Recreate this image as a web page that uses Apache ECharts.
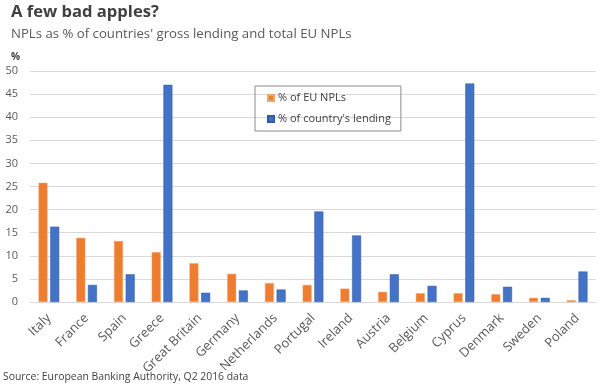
<!DOCTYPE html>
<html><head><meta charset="utf-8">
<script src="https://cdn.jsdelivr.net/npm/echarts@6/dist/echarts.min.js"></script>
<style>html,body{margin:0;padding:0;background:#fff}#c{width:600px;height:390px}</style>
</head><body><div id="c"></div>
<script>
var categories = ['Italy','France','Spain','Greece','Great Britain','Germany','Netherlands','Portugal','Ireland','Austria','Belgium','Cyprus','Denmark','Sweden','Poland'];
var euNPLs = [25.8, 13.9, 13.2, 10.8, 8.4, 6.1, 4.1, 3.7, 2.9, 2.2, 1.9, 1.9, 1.7, 0.9, 0.4];
var countryLending = [16.3, 3.7, 6.0, 47.0, 2.0, 2.5, 2.7, 19.6, 14.4, 6.0, 3.5, 47.3, 3.3, 0.9, 6.6];
var yTicks = [0,5,10,15,20,25,30,35,40,45,50];
var seriesNames = ['% of EU NPLs', "% of country's lending"];

var FONT = '"Open Sans", "Noto Sans", sans-serif';
var chart = echarts.init(document.getElementById('c'), null, {renderer:'canvas'});
chart.setOption({
  animation: false,
  textStyle: {fontFamily: FONT},
  graphic: [
    {type:'text', left: 11, top: 4, style:{text:'A few bad apples?', font:'bold 16.6px ' + FONT, fill:'#404040'}},
    {type:'text', left: 11, top: 28, style:{text:"NPLs as % of countries' gross lending and total EU NPLs", font:'13.2px ' + FONT, fill:'#595959'}},
    {type:'text', left: 11, top: 52, style:{text:'%', font:'bold 10px ' + FONT, fill:'#404040'}},
    {type:'text', left: 3, top: 372, style:{text:'Source: European Banking Authority, Q2 2016 data', font:'10.4px ' + FONT, fill:'#404040'}}
  ],
  legend: {
    orient: 'vertical', left: 255, top: 86,
    data: seriesNames,
    icon: 'rect', itemWidth: 6, itemHeight: 6, itemGap: 7,
    borderColor: '#8c8c8c', borderWidth: 1,
    padding: [5, 10, 5, 12],
    textStyle: {fontFamily: FONT, fontSize: 11, color: '#404040', padding:[0,0,0,-1], lineHeight: 14}
  },
  grid: {left: 30, right: 4, top: 71, bottom: 88, containLabel: false},
  xAxis: {
    type: 'category', data: categories,
    axisLine: {show: true, lineStyle: {color: '#d9d9d9'}},
    axisTick: {show: false},
    axisLabel: {rotate: 45, interval: 0, fontFamily: FONT, fontSize: 13, color: '#595959', margin: 14}
  },
  yAxis: {
    type: 'value', min: 0, max: 50, interval: 5,
    axisLine: {show: false}, axisTick: {show: false},
    splitLine: {lineStyle: {color: '#d9d9d9'}},
    axisLabel: {fontFamily: FONT, fontSize: 11, color: '#595959', margin: 12,
      formatter: function(v){ return yTicks.indexOf(v) >= 0 ? String(v) : ''; }}
  },
  series: [
    {name: seriesNames[0], type: 'bar', data: euNPLs, barWidth: 9, barGap: '30%',
     itemStyle: {color: '#ED7D31', borderColor: '#F4A46C', borderWidth: 0.5}},
    {name: seriesNames[1], type: 'bar', data: countryLending, barWidth: 9, barGap: '30%',
     itemStyle: {color: '#4472C4', borderColor: '#2F5AA8', borderWidth: 0.5}}
  ]
});
</script></body></html>
